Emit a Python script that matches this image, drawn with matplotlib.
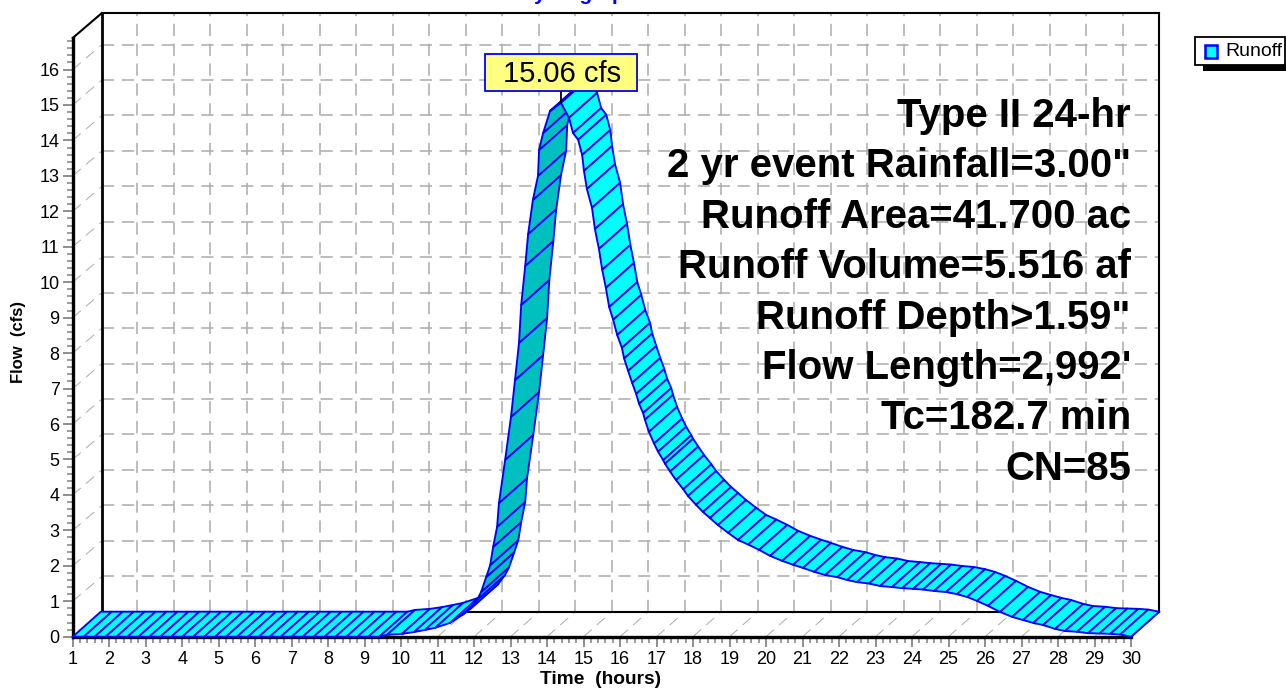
import matplotlib
matplotlib.use('Agg')
import matplotlib.pyplot as plt
from matplotlib.collections import PolyCollection
from matplotlib.patches import Rectangle
from matplotlib.ticker import MultipleLocator
import numpy as np

plt.rcParams['font.family'] = ['Liberation Sans', 'DejaVu Sans']

# --- data --- #
flat_time = [1.0, 1.3, 1.6, 1.9, 2.2, 2.5, 2.8, 3.1, 3.4, 3.7, 4.0, 4.3, 4.6, 4.9, 5.2, 5.5,
             5.8, 6.1, 6.4, 6.7, 7.0, 7.3, 7.6, 7.9, 8.2, 8.5, 8.8, 9.1, 9.4]
flat_flow = [0.0] * len(flat_time)

rise_time = [9.61, 10.02, 10.35, 10.65, 10.93, 11.34, 11.67, 11.89, 12.08, 12.19, 12.33, 12.44,
             12.52, 12.63, 12.68, 12.85, 13.01, 13.12, 13.23, 13.29, 13.40, 13.48, 13.61, 13.75,
             13.78, 13.89, 14.08, 14.38]
rise_flow = [0.05, 0.08, 0.13, 0.19, 0.25, 0.39, 0.61, 0.78, 1.04, 1.26, 1.68, 2.02,
             2.53, 3.10, 3.77, 4.99, 6.20, 7.24, 8.29, 9.36, 10.46, 11.36, 12.32, 13.00,
             13.73, 14.21, 14.83, 15.06]

fall_time = [14.60, 14.71, 14.85, 14.96, 15.01, 15.09, 15.23, 15.31, 15.42, 15.51, 15.61, 15.70,
             15.81, 15.92, 16.05, 16.11, 16.22, 16.33, 16.44, 16.52, 16.63, 16.68, 16.79, 16.93,
             17.04, 17.18, 17.23, 17.37, 17.53, 17.73, 17.86, 18.08, 18.27, 18.46, 18.68, 18.96,
             19.23, 19.51, 19.81, 20.11, 20.44, 20.74, 21.01, 21.32, 21.62, 21.95, 22.22, 22.49,
             22.82, 23.12, 23.45, 23.73, 24.03, 24.30, 24.60, 24.93, 25.23, 25.51, 25.78, 26.08,
             26.41, 26.74, 27.04, 27.32, 27.59, 27.92, 28.19, 28.52, 28.82, 29.13, 29.43, 29.70,
             30.0]
fall_flow = [14.64, 14.21, 14.02, 13.59, 13.14, 12.63, 12.10, 11.50, 10.94, 10.35, 9.84, 9.30,
             8.94, 8.51, 8.15, 7.85, 7.50, 7.16, 6.85, 6.57, 6.31, 6.12, 5.78, 5.45,
             5.22, 4.98, 4.88, 4.66, 4.42, 4.16, 3.97, 3.72, 3.52, 3.35, 3.15, 2.93,
             2.73, 2.60, 2.45, 2.28, 2.14, 2.03, 1.94, 1.83, 1.74, 1.68, 1.60, 1.54,
             1.50, 1.43, 1.40, 1.37, 1.35, 1.33, 1.29, 1.26, 1.20, 1.12, 1.01, 0.87,
             0.70, 0.56, 0.47, 0.39, 0.33, 0.22, 0.16, 0.14, 0.10, 0.09, 0.08, 0.06,
             0.0]

time = np.array(flat_time + rise_time + fall_time)
flow = np.array(flat_flow + rise_flow + fall_flow)

peak_time = 14.38
peak_flow = 15.06
peak_label = '15.06 cfs'

x_ticks = list(range(1, 31))
y_ticks = list(range(0, 17))

info_lines = ['Type II 24-hr', '2 yr event Rainfall=3.00"', 'Runoff Area=41.700 ac',
              'Runoff Volume=5.516 af', 'Runoff Depth>1.59"', "Flow Length=2,992'",
              'Tc=182.7 min', 'CN=85']

# --- layout --- #
W, H = 1286, 688
X_LEFT, X_RIGHT = 72.7, 1131
Y_BOTTOM, Y_TOP = 636.7, 38
XMIN, XMAX = 1, 30
YMAX = 16.89

# depth of the 3d box in data units
DEPTH_X = 0.77
DEPTH_Y = 0.705
WALL_X = XMIN + 0.8

BLUE = '#0000FF'
CYAN = '#00FFFF'
TEAL = '#00BFBF'
GRID = '#ABABAB'
GRID_DASH = (0, (8, 5))


def fx(px):
    return px / W


def fy(py):
    return 1 - py / H


fig = plt.figure(figsize=(W / 100, H / 100), dpi=100, facecolor='white')
ax = fig.add_axes([fx(X_LEFT), fy(Y_BOTTOM), (X_RIGHT - X_LEFT) / W, (Y_BOTTOM - Y_TOP) / H])
ax.set_xlim(XMIN, XMAX)
ax.set_ylim(0, YMAX)
ax.patch.set_visible(False)

back_x1 = XMAX + DEPTH_X
back_y0, back_y1 = DEPTH_Y, YMAX + DEPTH_Y

# back wall grid
for t in x_ticks[1:]:
    ax.plot([t + DEPTH_X] * 2, [back_y0, back_y1], color=GRID, lw=1.1, ls=GRID_DASH,
            clip_on=False, zorder=1)
for q in y_ticks[1:]:
    ax.plot([WALL_X, back_x1], [q + DEPTH_Y] * 2, color=GRID, lw=1.1, ls=GRID_DASH,
            clip_on=False, zorder=1)

# floor and side wall diagonals
for t in x_ticks[1:-1]:
    ax.plot([t, t + DEPTH_X], [0, DEPTH_Y], color=GRID, lw=0.7, ls=(0, (11, 7)),
            clip_on=False, zorder=1)
for q in y_ticks[1:]:
    ax.plot([XMIN, WALL_X], [q, q + DEPTH_Y], color=GRID, lw=0.7, ls=(0, (11, 7)),
            clip_on=False, zorder=1)

# box outline
box_kw = dict(color='black', clip_on=False, zorder=2, solid_capstyle='projecting')
ax.plot([WALL_X, WALL_X], [back_y0, back_y1], lw=2.0, **box_kw)
ax.plot([WALL_X, back_x1], [back_y1, back_y1], lw=1.5, **box_kw)
ax.plot([back_x1, back_x1], [back_y0, back_y1], lw=1.5, **box_kw)
ax.plot([WALL_X, back_x1], [back_y0, back_y0], lw=1.5, **box_kw)
ax.plot([XMIN, WALL_X], [YMAX, back_y1], lw=1.5, **box_kw)
ax.plot([XMAX, back_x1], [0, back_y0], lw=1.5, **box_kw)

# ribbon, one quad per time step
quads = []
colors = []
for i in range(len(time) - 1):
    t0, t1, q0, q1 = time[i], time[i + 1], flow[i], flow[i + 1]
    quads.append([(t0, q0), (t1, q1), (t1 + DEPTH_X, q1 + DEPTH_Y), (t0 + DEPTH_X, q0 + DEPTH_Y)])
    colors.append(TEAL if t0 >= 11.89 and t1 <= peak_time else CYAN)
ribbon = PolyCollection(quads, facecolors=colors, edgecolors=BLUE, linewidths=1.35,
                        clip_on=False, zorder=3)
ax.add_collection(ribbon)

# axes and ticks
for side in ['top', 'right']:
    ax.spines[side].set_visible(False)
for side in ['left', 'bottom']:
    ax.spines[side].set_linewidth(2.4)
    ax.spines[side].set_color('black')
    ax.spines[side].set_zorder(2.5)
ax.set_xticks(x_ticks)
ax.set_yticks(y_ticks)
ax.xaxis.set_minor_locator(MultipleLocator(0.2))
ax.yaxis.set_minor_locator(MultipleLocator(0.2))
ax.tick_params(which='major', length=7.5, width=1.1, color='#707070', labelsize=13,
               labelcolor='black', pad=2)
ax.tick_params(which='minor', length=4, width=1.1, color='#808080')
ax.tick_params(axis='x', which='major', pad=3)

fig.text(fx(19), fy(342), 'Flow  (cfs)', rotation=90, fontsize=12, fontweight='bold',
         ha='center', va='center')
fig.text(fx(601), fy(680), 'Time  (hours)', fontsize=13.8, fontweight='bold', ha='center', va='center')
fig.text(fx(579), 1.0, 'Hydrograph', color=BLUE, fontsize=15, fontweight='bold', ha='center',
         va='baseline')

# info block
for i, line in enumerate(info_lines):
    fig.text(fx(1131), fy(116 + i * 50.4), line, fontsize=28.9, fontweight='bold', ha='right',
             va='center', zorder=6)

# peak callout
ax.plot([peak_time, peak_time], [peak_flow, peak_flow + 0.35], color='black', lw=1.3,
        clip_on=False, zorder=4)
fig.add_artist(Rectangle((fx(485), fy(91)), 152 / W, 37 / H, transform=fig.transFigure,
                         facecolor='#FFFF80', edgecolor=BLUE, linewidth=1.3, zorder=5))
fig.text(fx(562), fy(74), peak_label, fontsize=21, ha='center', va='center', zorder=6)

# legend, runs off the right edge in the original too
fig.add_artist(Rectangle((fx(1203), fy(71)), 83 / W, 8 / H, transform=fig.transFigure,
                         facecolor='black', edgecolor='none', zorder=5))
fig.add_artist(Rectangle((fx(1195), fy(65)), 90 / W, 28 / H, transform=fig.transFigure,
                         facecolor='white', edgecolor='black', linewidth=1.3, zorder=5.1))
fig.add_artist(Rectangle((fx(1205), fy(58)), 12 / W, 13 / H, transform=fig.transFigure,
                         facecolor=CYAN, edgecolor=BLUE, linewidth=1.8, zorder=5.2))
fig.text(fx(1225), fy(52), 'Runoff', fontsize=14, ha='left', va='center', zorder=6)

fig.savefig('out.png', dpi=100, facecolor='white')
